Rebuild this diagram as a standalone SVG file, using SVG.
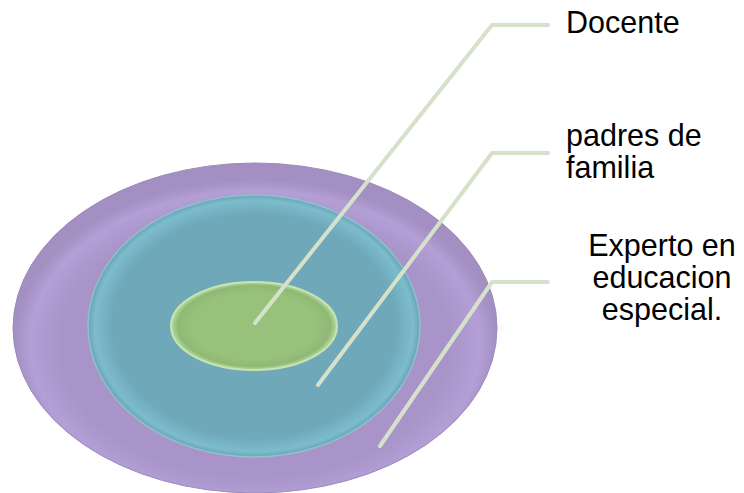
<svg xmlns="http://www.w3.org/2000/svg" width="744" height="493" viewBox="0 0 744 493">
<defs>
<radialGradient id="gP" cx="50%" cy="55%" r="50%">
<stop offset="0.8" stop-color="#a894c8"/>
<stop offset="0.93" stop-color="#b39ed6"/>
<stop offset="1" stop-color="#a48fc2"/>
</radialGradient>
<radialGradient id="gB" cx="50%" cy="50%" r="50%">
<stop offset="0.85" stop-color="#6ea8b9"/>
<stop offset="0.96" stop-color="#7cbccd"/>
<stop offset="1" stop-color="#6ba3b3"/>
</radialGradient>
<radialGradient id="gG" cx="50%" cy="50%" r="50%">
<stop offset="0.75" stop-color="#98c27c"/>
<stop offset="0.92" stop-color="#8fb874"/>
<stop offset="1" stop-color="#b8dca0"/>
</radialGradient>
</defs>
<style>
.ln{fill:none;stroke:#d6e1cb;stroke-width:4;stroke-linecap:round;stroke-linejoin:round}
.t{font-family:"Liberation Sans",Arial,sans-serif;font-size:30.5px;fill:#000}
</style>
<rect width="744" height="493" fill="#ffffff"/>
<g id="outer">
<ellipse cx="255" cy="328" rx="242" ry="165" fill="url(#gP)" stroke="#9d8abb" stroke-width="1"/>
</g>
<g id="middle">
<ellipse cx="254" cy="326" rx="166" ry="131" fill="url(#gB)" stroke="#8cc2d0" stroke-width="1.5"/>
</g>
<g id="inner">
<ellipse cx="254" cy="326" rx="83" ry="44" fill="url(#gG)" stroke="#c6e4b2" stroke-width="2"/>
</g>
<g id="connectors">
<polyline class="ln" points="255,323 492,25 548,25"/>
<polyline class="ln" points="318,385 492,153 548,153"/>
<polyline class="ln" points="380,446 492,282 548,282"/>
</g>
<g id="label-docente">
<text class="t" x="566" y="33">Docente</text>
</g>
<g id="label-padres">
<text class="t" x="566" y="146">padres de</text>
<text class="t" x="566" y="178">familia</text>
</g>
<g id="label-experto">
<text class="t" x="662" y="256" text-anchor="middle">Experto en</text>
<text class="t" x="662" y="288" text-anchor="middle">educacion</text>
<text class="t" x="662" y="320" text-anchor="middle">especial.</text>
</g>
</svg>
